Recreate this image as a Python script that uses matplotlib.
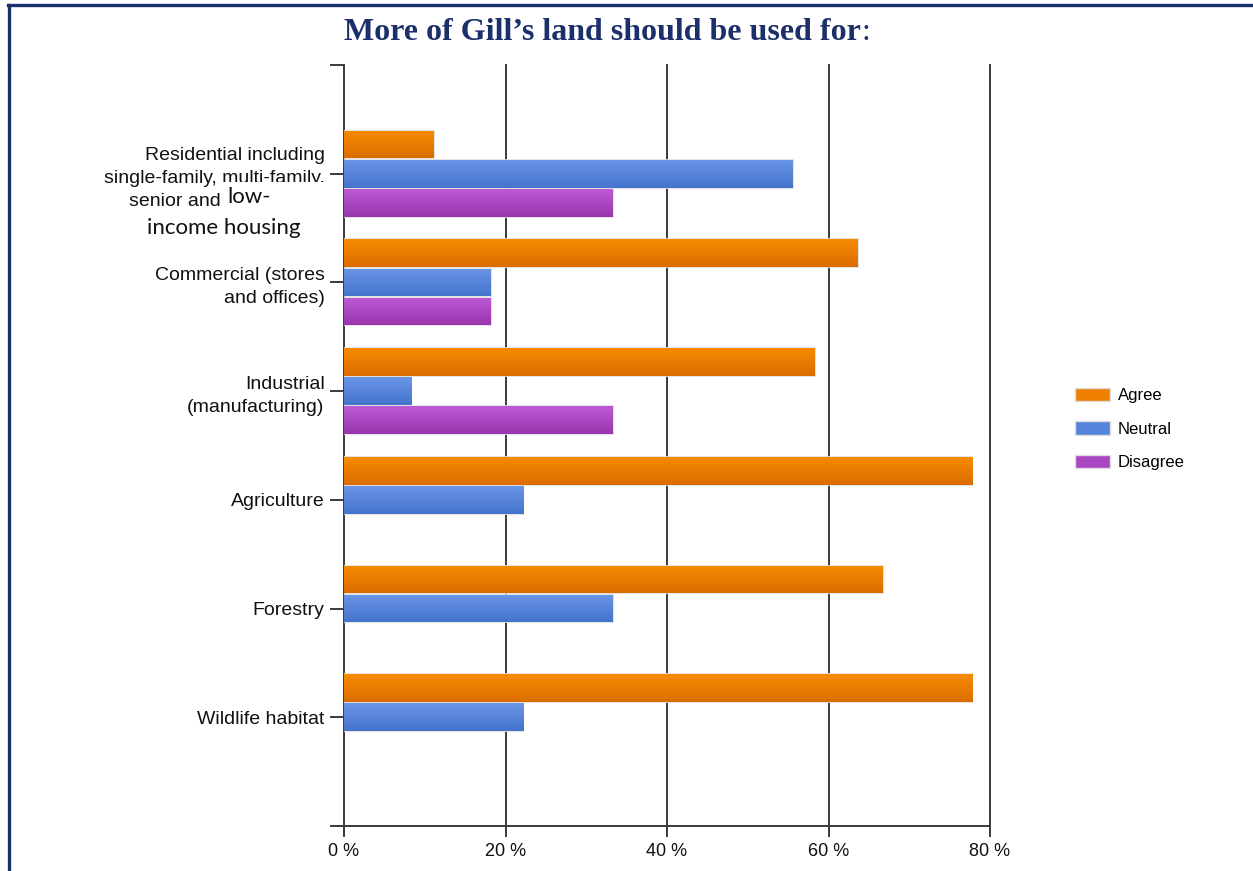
import numpy as np
import matplotlib
matplotlib.use("Agg")
import matplotlib.pyplot as plt
from matplotlib.colors import LinearSegmentedColormap
from matplotlib.lines import Line2D
from matplotlib.patches import Rectangle

# data (percent of respondents)
categories = ["Residential including\nsingle-family, multi-family,\nsenior and low-income",
              "Commercial (stores\nand offices)",
              "Industrial\n(manufacturing)",
              "Agriculture",
              "Forestry",
              "Wildlife habitat"]
agree = [11.1, 63.6, 58.3, 77.8, 66.7, 77.8]
neutral = [55.6, 18.2, 8.3, 22.2, 33.3, 22.2]
disagree = [33.3, 18.2, 33.3, 0, 0, 0]
xticks = [0, 20, 40, 60, 80]
xticklabels = ["0 %", "20 %", "40 %", "60 %", "80 %"]

W, H = 1253, 871
fig = plt.figure(figsize=(W / 100, H / 100), dpi=100)
plt.rcParams['font.family'] = ['Liberation Sans', 'DejaVu Sans']
ax = fig.add_axes([344 / W, 1 - 826 / H, (990 - 344) / W, (826 - 65) / H])

series = [("Agree", agree, "#f78b00", "#db6d00", "#f08000"),
          ("Neutral", neutral, "#6995e6", "#4574cd", "#5585da"),
          ("Disagree", disagree, "#bd59d4", "#9936ae", "#ab47c2")]
offsets = [-0.268, 0.0, 0.268]
bh = 0.255
ypos = np.arange(1, len(categories) + 1)

grad = np.linspace(0, 1, 64).reshape(-1, 1)
handles = []
for (name, vals, ctop, cbot, cmid), off in zip(series, offsets):
    cmap = LinearSegmentedColormap.from_list(name, [ctop, cbot])
    bars = ax.barh(ypos + off, vals, height=bh, color=cmid,
                   edgecolor="#dedede", linewidth=1.2, zorder=3)
    for b in bars:
        if b.get_width() <= 0:
            b.set_visible(False)
            continue
        x0, y0 = b.get_x(), b.get_y()
        im = ax.imshow(grad, cmap=cmap, aspect="auto", origin="upper",
                       extent=(x0, x0 + b.get_width(), y0 + b.get_height(), y0),
                       zorder=3.5, interpolation="bilinear")
        im.set_clip_path(b)
    handles.append(Rectangle((0, 0), 1, 1, facecolor=cmid, edgecolor="#dedede", linewidth=1))

ax.set_xlim(0, 80)
ax.set_ylim(7, 0)
ax.set_yticks(range(0, 8))
ax.set_yticklabels([""] + categories + [""], fontsize=14, linespacing=1.45, color="#111111")
ax.set_xticks(xticks)
ax.set_xticklabels(xticklabels, fontsize=13, color="#111111")
for x in xticks[1:]:
    ax.axvline(x, color="#3a3a3a", linewidth=1.4, zorder=1, clip_on=False)
for s in ["top", "right"]:
    ax.spines[s].set_visible(False)
for s in ["left", "bottom"]:
    ax.spines[s].set_color("#3a3a3a")
    ax.spines[s].set_linewidth(1.4)
ax.tick_params(axis="y", length=10, width=1.4, color="#3a3a3a", pad=4)
ax.tick_params(axis="x", length=8, width=1.4, color="#3a3a3a", pad=4)

# legend
fig.legend(handles, [s[0] for s in series], loc="center left",
           bbox_to_anchor=(1075 / W, 1 - 429 / H), frameon=False,
           fontsize=12, handlelength=2.1, handleheight=0.85,
           labelspacing=1.07, handletextpad=0.45, borderpad=0, borderaxespad=0)

# pasted-over patch on the residential label
fig.patches.append(Rectangle((222 / W, 1 - 207 / H), 108 / W, 25 / H,
                             transform=fig.transFigure, facecolor="white",
                             edgecolor="none", zorder=10))
fig.text(227 / W, 1 - 197 / H, "low-", fontsize=16, family=["Lato", "DejaVu Sans"],
         va="center", ha="left", color="#111111", zorder=11)
fig.text(147 / W, 1 - 228 / H, "income housing", fontsize=16, family=["Lato", "DejaVu Sans"],
         va="center", ha="left", color="#111111", zorder=11)

# title, bold part plus plain colon
navy = "#1b2f6b"
t = fig.text(344 / W, 1 - 33 / H, "More of Gill\u2019s land should be used for", fontsize=23,
             fontweight="bold", family=["Liberation Serif", "DejaVu Serif"],
             color=navy, va="center", ha="left")
fig.canvas.draw()
bb = t.get_window_extent()
fig.text(bb.x1 / W + 1 / W, 1 - 33 / H, ":", fontsize=23,
         family=["Liberation Serif", "DejaVu Serif"], color=navy, va="center", ha="left")

# page border (top and left)
fig.add_artist(Line2D([8 / W, 1], [1 - 5 / H, 1 - 5 / H], transform=fig.transFigure,
                      color=navy, linewidth=2.4))
fig.add_artist(Line2D([9 / W, 9 / W], [0, 1 - 5 / H], transform=fig.transFigure,
                      color=navy, linewidth=2.4))

fig.savefig("out.png", dpi=100)
